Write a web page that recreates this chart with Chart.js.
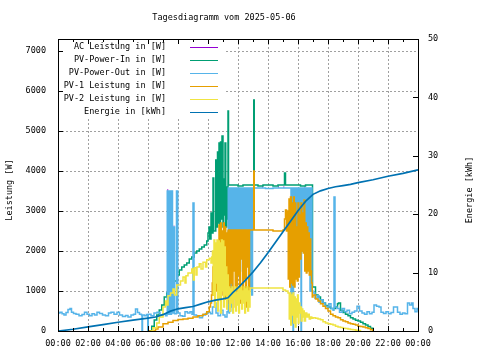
<!DOCTYPE html>
<html>
<head>
<meta charset="utf-8">
<script src="https://cdn.jsdelivr.net/npm/chart.js@4/dist/chart.umd.min.js"></script>
<style>
  body { margin: 0; background: #fff; }
  canvas { display: block; }
</style>
</head>
<body>
<canvas id="c" width="480" height="360"></canvas>
<script>
const title = 'Tagesdiagramm vom 2025-05-06';
const leftLabel = 'Leistung [W]';
const rightLabel = 'Energie [kWh]';
const seriesNames = ['AC Leistung in [W]', 'PV-Power-In in [W]', 'PV-Power-Out in [W]', 'PV-1 Leistung in [W]', 'PV-2 Leistung in [W]', 'Energie in [kWh]'];
const seriesColors = ['#9400d3', '#009e73', '#56b4e9', '#e69f00', '#f0e442', '#0072b2'];
const powerTicks = [0, 1000, 2000, 3000, 4000, 5000, 6000, 7000];
const energyTicks = [0, 10, 20, 30, 40, 50];

// [Minute des Tages, Wert]
const acW = [[437,3525],[441,3525],[442,null],[463,2625],[465,2625],[466,null],[817,3600],[820,3600],[821,null],[881,3600],[884,3600],[885,null],[902,3600],[905,3600],[906,null],[986,3600],[989,3600],[990,null]];

const pvInW = [[365,0],[375,120],[385,275],[395,400],[405,525],[415,650],[425,850],[435,950],[445,1050],[455,1200],[465,1250],[475,1400],[485,1525],[495,1600],[505,1650],[515,1700],[525,1800],[535,1850],[545,1950],[555,2000],[565,2050],[575,2100],[585,2150],[595,2250],[600,2450],[604,2600],[607,2300],[612,2950],[615,2450],[620,3825],[623,2500],[631,4275],[634,2600],[638,4475],[641,2700],[644,4700],[647,2500],[650,4725],[653,2800],[656,4875],[660,2600],[663,3800],[666,2900],[668,4700],[671,2600],[675,3600],[678,2800],[680,5500],[682,3650],[700,3650],[720,3625],[740,3650],[760,3650],[782,3650],[783,5775],[785,3650],[800,3625],[820,3650],[840,3650],[860,3625],[880,3650],[905,3650],[906,3950],[910,3650],[930,3650],[950,3650],[970,3625],[990,3650],[1010,3650],[1016,3650],[1018,1100],[1030,900],[1040,850],[1050,780],[1060,700],[1070,640],[1080,600],[1090,560],[1100,560],[1110,600],[1118,680],[1122,700],[1130,520],[1140,460],[1150,420],[1160,380],[1170,330],[1180,300],[1190,270],[1200,250],[1210,220],[1220,180],[1230,150],[1240,110],[1250,70],[1260,0]];

const pvOutW = [[0,450],[8,470],[16,430],[24,400],[32,460],[40,540],[48,560],[54,470],[62,440],[72,420],[84,380],[96,410],[106,470],[116,420],[126,380],[136,430],[146,400],[156,470],[166,440],[178,400],[190,380],[202,450],[212,470],[224,420],[236,470],[246,400],[258,360],[270,390],[280,350],[292,400],[302,420],[310,550],[318,460],[326,420],[334,400],[336,0],[338,400],[346,380],[354,410],[359,0],[361,420],[372,380],[384,450],[396,470],[408,400],[420,430],[430,380],[436,450],[437,3500],[441,3500],[442,420],[444,3450],[447,3500],[450,420],[454,3500],[457,3500],[458,450],[463,2600],[465,2600],[466,430],[474,3500],[478,3500],[479,450],[488,380],[498,370],[508,480],[518,450],[528,480],[536,420],[540,3200],[543,3200],[544,400],[554,380],[566,330],[578,400],[590,440],[600,470],[610,430],[618,600],[626,700],[632,450],[640,380],[650,520],[660,400],[668,350],[676,480],[681,3575],[684,450],[686,3575],[689,500],[691,3575],[694,600],[697,3575],[700,2200],[703,3575],[706,2400],[709,3575],[712,1800],[715,3575],[718,2300],[722,3575],[725,2000],[728,3575],[731,2400],[735,3575],[738,1500],[741,3575],[744,2200],[748,3575],[751,2500],[754,3575],[757,1800],[760,3575],[763,2300],[766,3575],[769,1100],[772,3575],[775,900],[778,3575],[800,3575],[830,3560],[860,3575],[890,3575],[920,3575],[930,3575],[932,200],[934,3575],[938,3575],[940,0],[942,3575],[946,1600],[949,3575],[952,1900],[955,3575],[958,1500],[961,3575],[964,2000],[967,3575],[970,3575],[972,0],[974,3575],[978,2200],[982,3575],[988,1800],[992,3575],[998,2400],[1002,3575],[1008,1000],[1012,3575],[1016,1000],[1020,950],[1028,820],[1036,880],[1044,720],[1052,780],[1060,700],[1068,620],[1076,600],[1084,680],[1092,560],[1100,520],[1104,3350],[1107,3350],[1108,600],[1116,560],[1126,470],[1136,560],[1146,480],[1156,520],[1166,430],[1176,470],[1186,500],[1196,620],[1206,500],[1216,450],[1226,420],[1236,480],[1246,430],[1256,470],[1264,650],[1274,620],[1284,600],[1292,470],[1302,440],[1312,480],[1322,430],[1332,460],[1342,600],[1350,600],[1358,470],[1368,420],[1378,450],[1388,430],[1398,700],[1406,650],[1414,700],[1420,560],[1428,480],[1436,560],[1440,520]];

const pv1W = [[360,0],[380,0],[390,50],[400,100],[420,180],[440,220],[460,260],[480,290],[500,300],[520,320],[540,350],[560,380],[580,420],[595,480],[605,600],[610,700],[614,900],[617,1200],[620,1600],[623,900],[626,1900],[629,1100],[632,1950],[635,1000],[638,1700],[641,900],[644,2650],[647,1100],[650,2700],[653,900],[656,2500],[659,1300],[662,2700],[665,1000],[668,2600],[671,800],[674,2450],[677,1200],[680,2500],[682,2525],[685,700],[688,2525],[691,1200],[694,2525],[697,800],[700,2525],[703,1500],[706,2525],[709,600],[712,2525],[715,1000],[718,2525],[721,1400],[724,2525],[727,700],[730,2525],[733,1800],[736,2525],[739,900],[742,2525],[745,1300],[748,2525],[751,600],[754,2525],[757,1600],[760,2525],[763,1000],[766,2525],[782,2525],[783,4000],[785,2525],[820,2525],[860,2500],[900,2525],[906,2800],[910,3025],[914,2500],[918,3000],[921,1300],[924,3300],[927,1100],[930,3350],[933,1200],[936,3200],[939,1150],[942,3350],[945,1100],[948,3200],[951,1300],[954,2600],[957,1250],[960,3200],[963,1350],[966,2900],[969,1800],[972,3200],[975,2000],[978,2950],[981,1950],[984,3275],[987,1500],[990,2700],[993,1450],[996,2600],[999,1500],[1002,2450],[1005,1400],[1008,2300],[1011,1500],[1014,1200],[1017,850],[1020,900],[1030,800],[1040,750],[1050,680],[1060,620],[1070,560],[1080,500],[1090,420],[1100,380],[1110,350],[1120,330],[1130,280],[1140,250],[1150,230],[1160,200],[1170,180],[1180,170],[1190,150],[1200,120],[1210,110],[1220,100],[1230,80],[1240,60],[1250,30],[1260,0]];

const pv2W = [[370,0],[380,80],[395,200],[405,350],[420,600],[430,750],[436,650],[440,880],[450,950],[460,1050],[466,900],[475,1150],[490,1250],[500,1350],[508,1200],[512,1380],[520,1450],[535,1550],[541,1275],[545,1580],[552,1400],[556,1600],[565,1680],[572,1550],[580,1720],[590,1600],[595,1780],[605,1820],[612,1700],[615,1850],[618,2000],[621,900],[624,2275],[627,600],[630,2200],[633,1200],[636,2275],[639,500],[642,2250],[645,800],[648,2200],[651,450],[654,2275],[657,1000],[660,2250],[663,600],[666,2100],[669,900],[672,1600],[675,550],[678,1400],[681,800],[684,1100],[687,500],[690,1050],[693,700],[696,1100],[699,450],[702,1000],[705,800],[708,1100],[711,500],[714,950],[717,650],[720,1100],[723,450],[726,1050],[729,800],[732,1100],[735,550],[738,1000],[741,700],[744,1100],[747,450],[750,1050],[753,750],[756,1100],[759,500],[762,1000],[765,600],[768,1075],[800,1075],[850,1075],[880,1075],[900,1025],[910,1000],[920,950],[925,300],[928,950],[931,150],[934,900],[937,400],[940,950],[943,200],[946,850],[949,100],[952,800],[955,350],[958,900],[961,200],[964,700],[967,450],[970,600],[973,250],[976,550],[979,350],[982,500],[985,250],[990,450],[995,350],[1000,420],[1005,300],[1010,350],[1015,320],[1020,330],[1030,320],[1040,300],[1050,280],[1060,230],[1070,200],[1080,180],[1090,170],[1100,150],[1110,120],[1120,100],[1130,90],[1140,70],[1150,60],[1160,50],[1170,40],[1180,30],[1190,20],[1200,10],[1210,0]];

const energyKWh = [[0,0],[60,0.3],[120,0.7],[180,1.1],[240,1.5],[300,1.85],[360,2.2],[390,2.4],[420,2.8],[450,3.4],[480,3.8],[510,4.0],[540,4.2],[570,4.6],[600,5.0],[630,5.3],[660,5.5],[680,5.7],[700,6.6],[720,7.4],[750,8.7],[780,10.1],[810,11.7],[840,13.4],[870,15.2],[900,17.0],[930,18.8],[960,20.6],[990,22.2],[1020,23.4],[1050,24.0],[1080,24.4],[1110,24.7],[1140,24.9],[1170,25.1],[1200,25.4],[1260,25.9],[1320,26.5],[1380,27.0],[1440,27.6]];

const FONT = '8.5px "DejaVu Sans Mono"';
Chart.defaults.font.family = '"DejaVu Sans Mono"';
Chart.defaults.font.size = 8.5;
Chart.defaults.color = '#000';

const pad2 = n => String(n).padStart(2, '0');
const hhmm = v => pad2(Math.floor(v / 60) % 24) + ':' + pad2(v % 60);

function series(i, pts, axis, order, width) {
  return {
    label: seriesNames[i],
    data: pts.map(([x, y]) => ({ x, y })),
    borderColor: seriesColors[i],
    backgroundColor: seriesColors[i],
    yAxisID: axis,
    order: order,
    borderWidth: width,
    pointRadius: 0,
    stepped: axis === 'y',
    spanGaps: false,
    fill: false,
  };
}

// Rahmen, Teilstriche, Legende, Titel, Achsenbeschriftung
const decor = {
  id: 'decor',
  afterDatasetsDraw(chart) {
    const { ctx, chartArea: a, scales } = chart;
    ctx.save();
    // Legende mit weissem Hintergrund
    ctx.fillStyle = '#fff';
    ctx.fillRect(a.left + 1, a.top + 1, 165, 79);
    ctx.font = FONT;
    ctx.textAlign = 'right';
    ctx.textBaseline = 'middle';
    seriesNames.forEach((name, i) => {
      const y = 47 + i * 13;
      ctx.fillStyle = '#000';
      ctx.fillText(name, 166, y);
      ctx.strokeStyle = seriesColors[i];
      ctx.lineWidth = 1;
      ctx.beginPath();
      ctx.moveTo(190, y + 0.5);
      ctx.lineTo(218, y + 0.5);
      ctx.stroke();
    });
    // Rahmen
    ctx.strokeStyle = '#000';
    ctx.lineWidth = 1;
    ctx.strokeRect(a.left + 0.5, a.top + 0.5, a.width, a.height);
    ctx.beginPath();
    for (let m = 60; m < 1440; m += 60) {
      const px = Math.round(scales.x.getPixelForValue(m)) + 0.5;
      const len = m % 120 === 0 ? 5 : 3;
      ctx.moveTo(px, a.bottom); ctx.lineTo(px, a.bottom - len);
      ctx.moveTo(px, a.top); ctx.lineTo(px, a.top + len);
    }
    powerTicks.slice(1).forEach(v => {
      const py = Math.round(scales.y.getPixelForValue(v)) + 0.5;
      ctx.moveTo(a.left, py); ctx.lineTo(a.left + 5, py);
    });
    energyTicks.slice(1, -1).forEach(v => {
      const py = Math.round(scales.y2.getPixelForValue(v)) + 0.5;
      ctx.moveTo(a.right, py); ctx.lineTo(a.right - 5, py);
    });
    ctx.stroke();
    // Titel und Achsentitel
    ctx.fillStyle = '#000';
    ctx.textAlign = 'center';
    ctx.fillText(title, 224, 18);
    ctx.translate(10, 190);
    ctx.rotate(-Math.PI / 2);
    ctx.fillText(leftLabel, 0, 0);
    ctx.setTransform(1, 0, 0, 1, 0, 0);
    ctx.translate(470, 190);
    ctx.rotate(-Math.PI / 2);
    ctx.fillText(rightLabel, 0, 0);
    ctx.restore();
  },
};

const dashGrid = { color: '#a0a0a0', lineWidth: 1, drawTicks: false };

new Chart(document.getElementById('c'), {
  type: 'line',
  data: {
    datasets: [
      series(0, acW, 'y', 5, 1.5),
      series(1, pvInW, 'y', 4, 1.5),
      series(2, pvOutW, 'y', 3, 1.5),
      series(3, pv1W, 'y', 2, 1.5),
      series(4, pv2W, 'y', 1, 1.5),
      series(5, energyKWh, 'y2', 0, 1.7),
    ],
  },
  options: {
    responsive: false,
    animation: false,
    layout: { padding: { top: 39, left: 0, right: 0, bottom: 0 } },
    scales: {
      x: {
        type: 'linear',
        min: 0,
        max: 1440,
        grid: dashGrid,
        border: { display: false, dash: [2, 2] },
        ticks: { stepSize: 120, autoSkip: false, maxRotation: 0, padding: 8, callback: v => hhmm(v) },
        afterFit: s => { s.height = 29; },
      },
      y: {
        position: 'left',
        min: 0,
        max: 7300,
        grid: dashGrid,
        border: { display: false, dash: [2, 2] },
        ticks: { padding: 12, autoSkip: false, callback: v => String(v) },
        afterBuildTicks: s => { s.ticks = powerTicks.map(v => ({ value: v })); },
        afterFit: s => { s.width = 58; },
      },
      y2: {
        position: 'right',
        min: 0,
        max: 50,
        grid: { display: false, drawTicks: false },
        border: { display: false },
        ticks: { padding: 10, autoSkip: false, callback: v => String(v) },
        afterBuildTicks: s => { s.ticks = energyTicks.map(v => ({ value: v })); },
        afterFit: s => { s.width = 62; },
      },
    },
    plugins: {
      legend: { display: false },
      title: { display: false },
      tooltip: { enabled: false },
    },
  },
  plugins: [decor],
});
</script>
</body>
</html>
